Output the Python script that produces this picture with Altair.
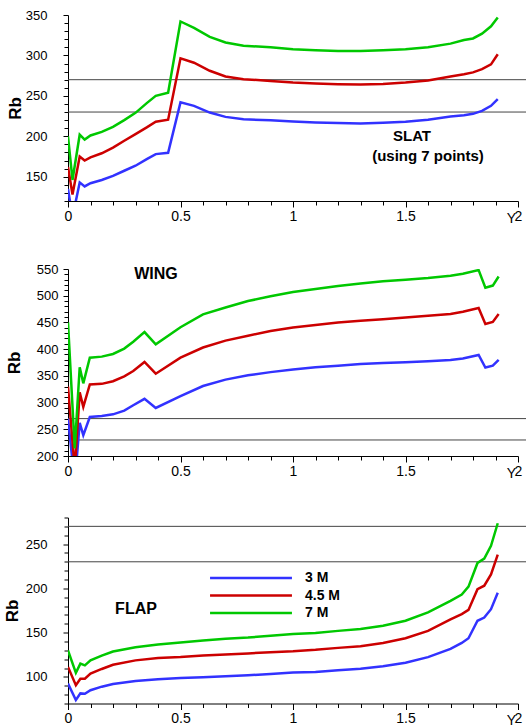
import altair as alt
import pandas as pd

FONT = "Liberation Sans"
series = ["3 M", "4.5 M", "7 M"]
colors = ["#3232ff", "#cc0000", "#00c800"]
ref_lines = [270, 230]

# ---- SLAT ----
slat_x = [0, 0.02, 0.052, 0.074, 0.1, 0.15, 0.2, 0.25, 0.3, 0.35, 0.39, 0.445, 0.5, 0.56, 0.63,
          0.7, 0.78, 0.9, 1.0, 1.1, 1.2, 1.3, 1.4, 1.5, 1.6, 1.7, 1.76, 1.8, 1.84, 1.88, 1.91]
slat_3m = [135, 100, 143, 138, 142, 146, 151, 157.4, 163.6, 171.8, 178, 179.6, 242, 237.7, 229.4,
           224, 221, 220, 218.3, 217, 216.3, 215.8, 216.7, 218, 220.4, 224.5, 226, 227.8, 231.5, 237.7, 246]
slat_45m = [162, 128, 175, 170, 174, 179, 186, 194.5, 202.7, 211, 218, 220.6, 296.5, 291, 281,
            274, 270.6, 268.5, 266.5, 265.2, 264.4, 264, 264.8, 266.5, 269, 274, 276.7, 279, 283, 289, 301.5]
slat_7m = [200, 146, 202, 196, 201, 205.5, 211.7, 220, 229, 241, 250, 254, 342, 334, 323,
           316, 312, 310, 307.6, 306.4, 305.6, 305.6, 306.4, 307.6, 310, 314.6, 319, 321, 327, 336, 347]

# ---- WING ----
wing_x = [0, 0.03, 0.052, 0.068, 0.097, 0.15, 0.2, 0.25, 0.29, 0.34, 0.39, 0.5, 0.6, 0.7, 0.8,
          0.9, 1.0, 1.1, 1.2, 1.3, 1.4, 1.5, 1.6, 1.7, 1.755, 1.825, 1.855, 1.888, 1.914]
wing_3m = [270, 150, 262, 239, 273, 275, 278, 285, 295, 307, 290, 312, 331, 343, 351,
           357, 362, 366, 369, 372, 374, 375.5, 377.5, 379.5, 382.5, 389, 365.6, 369, 380]
wing_45m = [330, 175, 319, 292, 334, 335, 340, 349, 359, 376, 354, 384, 403, 416, 425,
            434, 440.6, 445, 450, 453, 456, 459, 462.5, 465.6, 470, 477, 447, 451, 465.6]
wing_7m = [450, 214, 366, 336, 384, 386, 391, 401, 414, 432, 409, 441, 465, 478, 490,
           499, 507, 512.5, 518, 523, 527, 530, 533, 537.5, 541, 548, 515, 519, 536]

# ---- FLAP ----
flap_x = [0, 0.035, 0.055, 0.075, 0.1, 0.15, 0.2, 0.3, 0.4, 0.5, 0.6, 0.7, 0.8, 0.9, 1.0,
          1.1, 1.2, 1.3, 1.4, 1.5, 1.6, 1.7, 1.75, 1.78, 1.82, 1.85, 1.88, 1.91]
flap_3m = [92.5, 74, 81.4, 81, 85, 89, 92, 95.5, 97.4, 98.9, 99.6, 100.7, 101.9, 103.4, 105,
           105.6, 107.5, 109.3, 112, 116, 122.4, 131.7, 138.4, 143.7, 163.4, 167, 176.5, 195]
flap_45m = [111.3, 90.7, 98, 98, 103.7, 109, 113.8, 118.7, 121.3, 122.4, 124.3, 125.4, 126.5, 128, 129,
            130.6, 132.8, 134.7, 138.4, 143.7, 152, 165, 171, 175.7, 199, 203, 215.7, 238]
flap_7m = [130, 104.6, 115, 113, 118.7, 124, 128.7, 133.6, 136.6, 139, 141, 143, 144.4, 146.6, 148.5,
           149.6, 152, 154, 157.8, 163.4, 172.8, 185.8, 193, 202, 228.7, 233.6, 248, 273.5]

x_ticks = [round(i * 0.1, 1) for i in range(21)]
W = 450


def long_df(xs, ys_list):
    rows = []
    for name, ys in zip(series, ys_list):
        for i, (x, y) in enumerate(zip(xs, ys)):
            rows.append({"Y": x, "Rb": y, "series": name, "order": i})
    return pd.DataFrame(rows)


def x_axis():
    major = "abs(datum.value*2 - round(datum.value*2)) < 0.001"
    return alt.Axis(
        values=x_ticks,
        labelExpr=f"({major}) ? toString(datum.value) : ''",
        tickSize={"condition": {"test": major, "value": 6}, "value": 4},
        labelFontSize=14, labelPadding=2, labelFlush=False, labelOverlap=False,
        title="Y", titleX=W - 7, titleY=21, titleAlign="center", titleBaseline="alphabetic",
        titleFontSize=14, titleFontWeight="normal",
    )


def y_axis(lo, hi, label_pad, title_pad):
    major = "abs(datum.value/50 - round(datum.value/50)) < 0.001"
    return alt.Axis(
        values=list(range(lo, hi + 1, 10)),
        labelExpr=f"({major}) ? toString(datum.value) : ''",
        tickSize={"condition": {"test": major, "value": 5}, "value": 4},
        labelFontSize=13, labelPadding=label_pad, labelOverlap=False, labelFlush=False,
        title="Rb", titleFontSize=17, titleFontWeight="bold", titlePadding=title_pad,
    )


def panel(xs, ys_list, lo, hi, H, label_pad, title_pad, texts, legend=None):
    df = long_df(xs, ys_list)
    yscale = alt.Scale(domain=[lo, hi], nice=False, zero=False)
    yaxis = y_axis(lo, hi, label_pad, title_pad)
    color = alt.Color("series:N", scale=alt.Scale(domain=series, range=colors), legend=legend)
    rules = alt.Chart(pd.DataFrame({"Rb": ref_lines})).mark_rule(
        color="#444444", strokeWidth=1, clip=False
    ).encode(y=alt.Y("Rb:Q", scale=yscale, axis=yaxis), x=alt.value(0), x2=alt.value(W + 8))
    lines = alt.Chart(df).mark_line(strokeWidth=2.5, clip=True).encode(
        x=alt.X("Y:Q", scale=alt.Scale(domain=[0, 2], nice=False, zero=False), axis=x_axis()),
        y=alt.Y("Rb:Q", scale=yscale, axis=yaxis),
        color=color,
        order="order:Q",
    )
    layers = [rules, lines]
    for t, px, py, fs in texts:
        layers.append(
            alt.Chart(pd.DataFrame({"t": [t]})).mark_text(
                font=FONT, fontSize=fs, fontWeight="bold", align="center",
                baseline="alphabetic", color="black"
            ).encode(text="t:N", x=alt.value(px), y=alt.value(py))
        )
    return alt.layer(*layers).properties(width=W, height=H)


p1 = panel(slat_x, [slat_3m, slat_45m, slat_7m], 120, 350, 186, 16, 1,
           [("SLAT", 344, 126, 15), ("(using 7 points)", 360, 146, 15)])
p2 = panel(wing_x, [wing_3m, wing_45m, wing_7m], 200, 550, 187, 5, 12.5,
           [("WING", 88, 10, 16)])
legend = alt.Legend(
    title=None, orient="none", legendX=175, legendY=52.6,
    symbolType="M-6.3,0H6.3", symbolSize=169, symbolStrokeWidth=2.5,
    labelFont=FONT, labelFontSize=14, labelFontWeight="bold", labelColor="black",
    labelOffset=46, symbolOffset=0, rowPadding=2.5, padding=0,
)
p3 = panel(flap_x, [flap_3m, flap_45m, flap_7m], 70, 280, 186, 16, 4,
           [("FLAP", 68, 96, 16)], legend=legend)

top = alt.vconcat(p1, p2, spacing=38)
chart = alt.vconcat(top, p3, spacing=31.5).resolve_scale(
    color="independent"
).resolve_legend(color="independent").properties(
    padding={"left": 3, "top": 9, "right": 0, "bottom": 0}
).configure_view(stroke=None).configure_axis(
    grid=False, domainColor="black", tickColor="black", labelColor="black",
    titleColor="black", labelFont=FONT, titleFont=FONT, domainWidth=1, tickWidth=1,
)

chart.save("out.html", embed_options={"renderer": "svg", "actions": False})
